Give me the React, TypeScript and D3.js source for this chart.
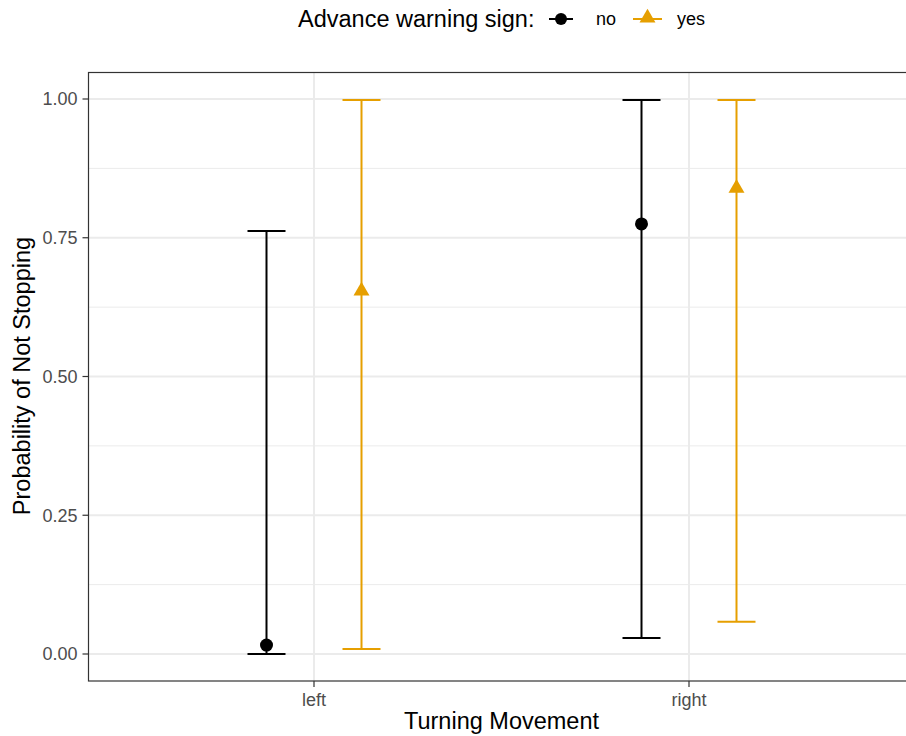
import React from "react";
import * as d3 from "d3";

const categories = ["left", "right"];
const groups = ["no", "yes"];
const estimates = { no: [0.016, 0.775], yes: [0.656, 0.841] };
const lowers = { no: [0.0, 0.029], yes: [0.009, 0.058] };
const uppers = { no: [0.762, 0.998], yes: [0.998, 0.998] };
const yTicks = [0, 0.25, 0.5, 0.75, 1.0];
const yMinor = [0.125, 0.375, 0.625, 0.875];
const colors: Record<string, string> = { no: "#000000", yes: "#E69F00" };

const W = 906, H = 736;
const panel = { left: 88.5, right: 914, top: 72.5, bottom: 681 };

export default function App() {
  const y = d3.scaleLinear().domain([0, 1]).range([654, 99]);
  const x = d3.scalePoint<string>().domain(categories).range([314, 689]);
  const dodge = 47.5;
  const capW = 19;
  const font = "'Liberation Sans', Arial, sans-serif";
  const tri = d3.symbol().type(d3.symbolTriangle).size(110)()!;

  return (
    <svg width={W} height={H} style={{ position: "absolute", left: 0, top: 0, background: "#fff" }} fontFamily={font}>
      <rect x={0} y={0} width={W} height={H} fill="#fff" />
      {/* grid */}
      {yMinor.map((v) => (
        <line key={"mi" + v} x1={panel.left} x2={panel.right} y1={y(v)} y2={y(v)} stroke="#EBEBEB" strokeWidth={1} />
      ))}
      {yTicks.map((v) => (
        <line key={"ma" + v} x1={panel.left} x2={panel.right} y1={y(v)} y2={y(v)} stroke="#EBEBEB" strokeWidth={2} />
      ))}
      {categories.map((c) => (
        <line key={"gx" + c} x1={x(c)!} x2={x(c)!} y1={panel.top} y2={panel.bottom} stroke="#EBEBEB" strokeWidth={2} />
      ))}
      {/* error bars */}
      {groups.map((g, gi) =>
        categories.map((c, ci) => {
          const cx = x(c)! + (gi === 0 ? -dodge : dodge);
          const lo = y(lowers[g][ci]);
          const hi = y(uppers[g][ci]);
          const col = colors[g];
          return (
            <g key={g + c}>
              <line x1={cx} x2={cx} y1={lo} y2={hi} stroke={col} strokeWidth={2} />
              <line x1={cx - capW} x2={cx + capW} y1={lo} y2={lo} stroke={col} strokeWidth={2} />
              <line x1={cx - capW} x2={cx + capW} y1={hi} y2={hi} stroke={col} strokeWidth={2} />
              {g === "no" ? (
                <circle cx={cx} cy={y(estimates[g][ci])} r={6.5} fill={col} />
              ) : (
                <path d={tri} transform={`translate(${cx},${y(estimates[g][ci]) + 1})`} fill={col} />
              )}
            </g>
          );
        })
      )}
      {/* panel border */}
      <rect x={panel.left} y={panel.top} width={panel.right - panel.left} height={panel.bottom - panel.top} fill="none" stroke="#333333" strokeWidth={1.2} />
      {/* y axis */}
      {yTicks.map((v) => (
        <g key={"yt" + v}>
          <line x1={panel.left - 6} x2={panel.left} y1={y(v)} y2={y(v)} stroke="#333333" strokeWidth={1.2} />
          <text x={panel.left - 11} y={y(v)} dy="0.36em" textAnchor="end" fontSize={18} fill="#4D4D4D">
            {d3.format(".2f")(v)}
          </text>
        </g>
      ))}
      {/* x axis */}
      {categories.map((c) => (
        <g key={"xt" + c}>
          <line x1={x(c)!} x2={x(c)!} y1={panel.bottom} y2={panel.bottom + 6} stroke="#333333" strokeWidth={1.2} />
          <text x={x(c)!} y={706} textAnchor="middle" fontSize={18} fill="#4D4D4D">
            {c}
          </text>
        </g>
      ))}
      <text x={501.5} y={729} textAnchor="middle" fontSize={23.5} fill="#000">Turning Movement</text>
      <text transform={`translate(30,376) rotate(-90)`} textAnchor="middle" fontSize={23.5} fill="#000">
        Probability of Not Stopping
      </text>
      {/* legend */}
      <text x={298} y={27} fontSize={23.5} fill="#000">Advance warning sign:</text>
      <line x1={549} x2={573} y1={19} y2={19} stroke="#000" strokeWidth={2} />
      <circle cx={561} cy={19} r={6} fill="#000" />
      <text x={596} y={25} fontSize={18} fill="#000">no</text>
      <line x1={633} x2={662} y1={19} y2={19} stroke="#E69F00" strokeWidth={2} />
      <path d={tri} transform="translate(647.5,18)" fill="#E69F00" />
      <text x={677} y={25} fontSize={18} fill="#000">yes</text>
    </svg>
  );
}
